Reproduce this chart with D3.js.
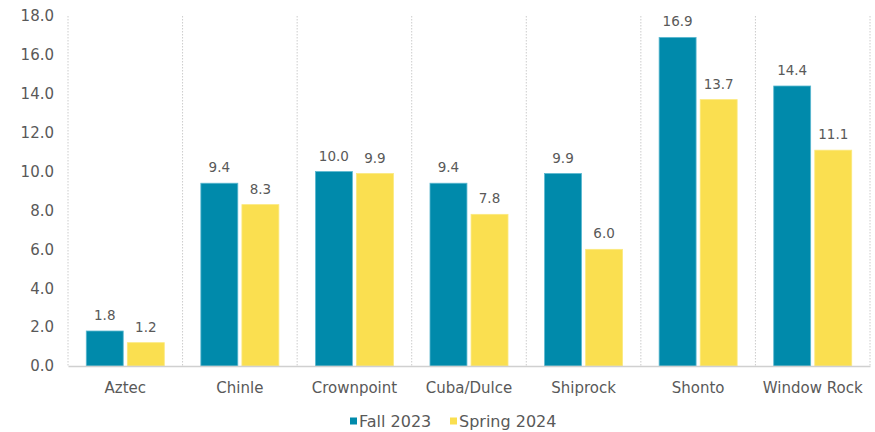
<!DOCTYPE html>
<html>
<head>
<meta charset="utf-8">
<script src="https://cdn.jsdelivr.net/npm/d3@7"></script>
<style>
  body { margin: 0; background: #fff; }
  text { font-family: "DejaVu Sans", Verdana, sans-serif; fill: #595959; }
</style>
</head>
<body>
<div class="main-container"></div>
<script>
const sites = ["Aztec", "Chinle", "Crownpoint", "Cuba/Dulce", "Shiprock", "Shonto", "Window Rock"];
const fall2023 = [1.8, 9.4, 10.0, 9.4, 9.9, 16.9, 14.4];
const spring2024 = [1.2, 8.3, 9.9, 7.8, 6.0, 13.7, 11.1];
const seriesNames = ["Fall 2023", "Spring 2024"];
const yTicks = [0, 2, 4, 6, 8, 10, 12, 14, 16, 18];

const colors = ["#008aab", "#fadf50"];

let margin = {top: 16, right: 5, bottom: 66, left: 68},
  width = 875 - margin.left - margin.right,
  height = 432 - margin.top - margin.bottom;

const svg = d3.select(".main-container")
  .append("svg")
  .attr("width", 875)
  .attr("height", 432)
  .append("g")
  .attr("transform", "translate(" + margin.left + "," + margin.top + ")");

const rows = sites.map((s, i) => ({site: s, values: [fall2023[i], spring2024[i]]}));

let x = d3.scaleBand()
  .domain(sites)
  .range([0, width])
  .paddingInner(0)
  .paddingOuter(0);

// two bars per site, small gap between them
let xInner = d3.scaleBand()
  .domain([0, 1])
  .range([0, x.bandwidth()])
  .paddingInner(0.1)
  .paddingOuter(0.445);

let y = d3.scaleLinear()
  .domain([0, 18])
  .range([height, 0]);

// dotted separators between sites (and the left/right edges)
const sepX = [0].concat(sites.slice(1).map(s => x(s)), [width]);
svg.append("g")
  .selectAll("line")
  .data(sepX)
  .join("line")
  .attr("x1", d => d)
  .attr("x2", d => d)
  .attr("y1", 0)
  .attr("y2", height)
  .attr("stroke", "#cccccc")
  .attr("stroke-dasharray", "1.5,1.5");

// y axis
svg.append("g")
  .call(d3.axisLeft(y).tickValues(yTicks).tickFormat(d3.format(".1f")).tickSize(0).tickPadding(14))
  .call(g => g.select(".domain").remove())
  .selectAll("text")
  .style("font-family", "'DejaVu Sans', Verdana, sans-serif")
  .style("font-size", "15px")
  .attr("fill", "#595959");

// bars
const groups = svg.append("g")
  .selectAll("g")
  .data(rows)
  .join("g")
  .attr("transform", d => "translate(" + x(d.site) + ",0)");

groups.selectAll("rect")
  .data(d => d.values)
  .join("rect")
  .attr("x", (d, i) => xInner(i))
  .attr("width", xInner.bandwidth())
  .attr("y", d => y(d))
  .attr("height", d => height - y(d))
  .attr("fill", (d, i) => colors[i])
  .attr("stroke", (d, i) => i === 0 ? "#5bb8d0" : "#fbe97f")
  .attr("stroke-width", 0.8);

groups.selectAll("text")
  .data(d => d.values)
  .join("text")
  .attr("x", (d, i) => xInner(i) + xInner.bandwidth() / 2)
  .attr("y", d => y(d) - 11)
  .attr("text-anchor", "middle")
  .style("font-size", "13.5px")
  .attr("fill", "#595959")
  .text(d => d.toFixed(1));

// x axis
svg.append("g")
  .attr("transform", "translate(0," + height + ")")
  .call(d3.axisBottom(x).tickSize(0).tickPadding(16))
  .call(g => g.select(".domain").attr("stroke", "#d0d0d0").attr("stroke-width", 1.5))
  .selectAll("text")
  .style("font-family", "'DejaVu Sans', Verdana, sans-serif")
  .style("font-size", "15px")
  .attr("fill", "#595959");

// legend
const legend = svg.append("g")
  .attr("transform", "translate(" + (350 - margin.left) + "," + (421 - margin.top) + ")");

const legendX = [0, 100];
const item = legend.selectAll("g")
  .data(seriesNames)
  .join("g")
  .attr("transform", (d, i) => "translate(" + legendX[i] + ",0)");

item.append("rect")
  .attr("x", 0)
  .attr("y", -3.5)
  .attr("width", 7)
  .attr("height", 7)
  .attr("fill", (d, i) => colors[i]);

item.append("text")
  .attr("x", 9)
  .attr("dy", "0.35em")
  .style("font-size", "16px")
  .attr("fill", "#595959")
  .text(d => d);
</script>
</body>
</html>
